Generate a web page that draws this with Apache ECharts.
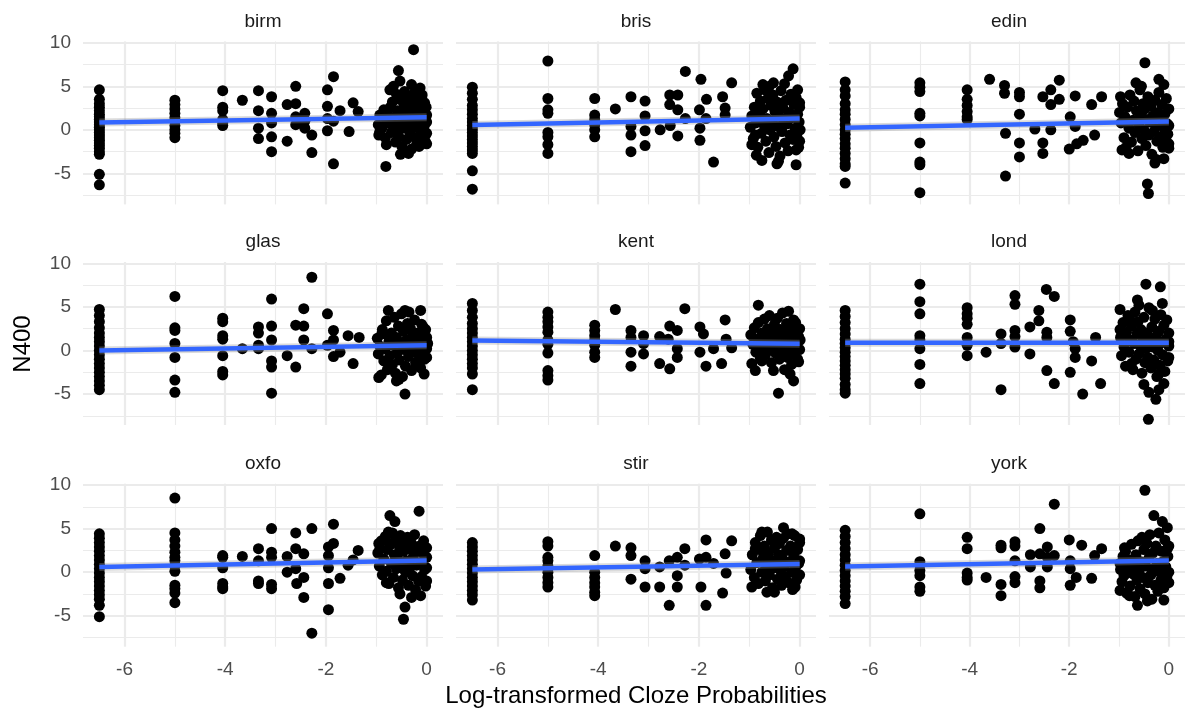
<!DOCTYPE html>
<html><head><meta charset="utf-8">
<script src="https://cdn.jsdelivr.net/npm/echarts@6/dist/echarts.min.js"></script>
<style>html,body{margin:0;padding:0;background:#fff}#c{width:1185px;height:715px}</style>
</head><body><div id="c"></div>
<script>
const panels = ['birm','bris','edin','glas','kent','lond','oxfo','stir','york'];

const birm = [
[-6.5,4.6],[-6.5,3.5],[-6.5,3.0],[-6.5,2.6],[-6.5,2.2],[-6.5,1.8],[-6.5,1.5],[-6.5,1.2],[-6.5,0.9],[-6.5,0.6],[-6.5,0.3],[-6.5,0.0],[-6.5,-0.3],[-6.5,-0.6],[-6.5,-0.9],[-6.5,-1.2],[-6.5,-1.5],[-6.5,-1.8],[-6.5,-2.1],[-6.5,-2.5],[-6.5,-2.8],[-6.5,-5.1],[-6.5,-6.3],
[-5,3.4],[-5,2.9],[-5,2.4],[-5,1.9],[-5,1.4],[-5,1.0],[-5,0.5],[-5,0.0],[-5,-0.4],[-5,-0.9],
[-4.05,4.5],[-4.05,2.6],[-4.05,2.2],[-4.05,1.2],[-4.05,0.8],[-4.05,0.5],
[-3.66,3.4],[-3.34,4.5],[-3.34,2.2],[-3.34,0.2],[-3.34,-1.0],[-3.08,3.8],[-3.08,1.9],[-3.08,0.8],[-3.08,-0.8],[-3.08,-2.5],[-2.77,-1.3],[-2.77,2.9],[-2.6,5.0],[-2.6,3.0],[-2.6,1.5],[-2.6,0.6],[-2.42,1.9],[-2.42,1.0],[-2.42,0.2],[-2.28,-0.6],[-2.28,-2.6],[-1.97,4.6],[-1.97,2.7],[-1.97,1.3],[-1.97,-0.1],[-1.85,6.1],[-1.85,-3.9],[-1.85,1.0],[-1.72,2.2],[-1.54,-0.2],[-1.46,3.1],[-1.36,2.1],
[-0.95,-0.6],[-0.93,1.7],[-0.8,-1.7],[-0.81,-4.2],[-0.73,4.6],[-0.56,6.8],[-0.26,9.2],[-0.53,5.6],[-0.46,-2.5],[-0.3,5.2],[-0.13,4.8],[-0.1,3.7],[0,1.7],[-0.03,-1.3],[-0.2,-1.7],[0,-0.4],
[-0.9,1.2],[-0.88,0.3],[-0.85,2.3],[-0.82,-0.9],[-0.78,1.9],[-0.75,0.8],[-0.72,2.6],[-0.7,-0.3],[-0.68,3.2],[-0.66,1.4],[-0.64,0.1],[-0.62,-1.4],[-0.6,4.1],[-0.58,2.2],[-0.56,0.6],[-0.55,-0.8],[-0.53,3.5],[-0.5,1.7],[-0.49,-1.9],[-0.47,0.2],[-0.45,2.9],[-0.44,4.4],[-0.42,1.0],[-0.4,-1.1],[-0.38,2.4],[-0.37,0.5],[-0.35,3.8],[-0.33,-0.4],[-0.31,1.5],[-0.3,-2.2],[-0.28,2.8],[-0.27,0.9],[-0.25,4.2],[-0.23,-0.9],[-0.22,1.9],[-0.2,0.3],[-0.18,3.2],[-0.17,-1.4],[-0.15,1.2],[-0.14,2.5],[-0.12,-0.2],[-0.1,0.8],[-0.09,4.0],[-0.08,-1.0],[-0.06,2.0],[-0.05,0.4],[-0.04,3.1],[-0.03,-0.6],[-0.02,1.4],[-0.01,2.6],[0,0.9],[0,-1.6],[-0.96,0.6],[-0.93,-0.2],[-0.66,5.0],[-0.52,-2.8],[-0.36,-2.7],[-0.15,-1.9]
];

const bris = [
[-6.5,4.9],[-6.5,4.2],[-6.5,3.5],[-6.5,2.8],[-6.5,2.3],[-6.5,1.8],[-6.5,1.3],[-6.5,0.9],[-6.5,0.5],[-6.5,0.1],[-6.5,-0.3],[-6.5,-0.7],[-6.5,-1.1],[-6.5,-1.5],[-6.5,-1.9],[-6.5,-2.3],[-6.5,-2.7],[-6.5,-4.7],[-6.5,-6.8],
[-5,7.9],[-5,3.6],[-5,2.3],[-5,1.9],[-5,-0.3],[-5,-0.8],[-5,-1.7],[-5,-2.7],
[-4.07,3.6],[-4.07,1.7],[-4.07,1.2],[-4.07,0.6],[-4.07,0.0],[-4.07,-0.8],
[-3.66,2.4],[-3.35,3.8],[-3.35,0.4],[-3.35,-0.6],[-3.35,-2.5],[-3.07,3.3],[-3.07,1.6],[-3.07,-0.1],[-3.07,-1.8],[-2.77,0.0],[-2.58,4.0],[-2.58,2.9],[-2.57,0.5],[-2.42,4.0],[-2.42,2.3],[-2.42,-0.7],[-2.27,1.3],[-2.27,6.7],[-1.96,5.8],[-1.99,2.3],[-1.98,0.2],[-1.98,-1.2],[-1.85,3.5],[-1.86,1.3],[-1.71,-3.7],[-1.53,3.8],[-1.48,2.5],[-1.48,1.7],[-1.35,5.4],
[-0.95,-1.7],[-0.88,-0.6],[-0.75,-3.5],[-0.73,5.2],[-0.52,5.4],[-0.45,-3.9],[-0.22,6.2],[-0.13,7.0],[-0.04,4.6],[-0.07,-4.0],[-0.07,-2.3],[0.01,0.0],[0,2.6],
[-0.98,0.3],[-0.95,1.6],[-0.92,-1.0],[-0.9,2.6],[-0.87,0.8],[-0.85,4.2],[-0.83,-2.0],[-0.8,1.9],[-0.78,3.3],[-0.76,-0.4],[-0.73,2.4],[-0.71,0.6],[-0.69,4.6],[-0.67,-1.3],[-0.65,1.3],[-0.63,3.6],[-0.61,-2.6],[-0.59,0.0],[-0.57,2.8],[-0.55,1.0],[-0.53,4.0],[-0.51,-0.8],[-0.49,2.1],[-0.47,-1.9],[-0.45,3.2],[-0.43,0.4],[-0.41,1.6],[-0.39,-3.0],[-0.37,4.5],[-0.35,-0.2],[-0.33,2.5],[-0.31,1.1],[-0.29,-1.5],[-0.27,3.4],[-0.25,0.7],[-0.23,-2.4],[-0.21,2.0],[-0.19,-0.6],[-0.17,4.1],[-0.15,1.4],[-0.13,-1.1],[-0.11,2.9],[-0.09,0.2],[-0.07,3.7],[-0.05,-0.9],[-0.04,1.8],[-0.02,-2.0],[-0.01,0.9],[0,3.1],[0,-1.3],[-0.6,5.0],[-0.42,-3.6],[-0.86,-2.9],[-0.3,5.3]
];

const edin = [
[-6.5,5.5],[-6.5,4.6],[-6.5,3.9],[-6.5,3.0],[-6.5,2.3],[-6.5,1.8],[-6.5,1.2],[-6.5,0.6],[-6.5,0.0],[-6.5,-0.5],[-6.5,-1.0],[-6.5,-1.6],[-6.5,-2.1],[-6.5,-2.7],[-6.5,-3.3],[-6.5,-3.9],[-6.5,-4.2],[-6.5,-6.1],
[-5,5.4],[-5,4.9],[-5,4.4],[-5,1.9],[-5,1.6],[-5,-1.5],[-5,-3.7],[-5,-4.0],[-5,-7.2],
[-4.05,4.6],[-4.05,3.5],[-4.05,2.8],[-4.05,2.1],[-4.05,1.5],[-4.05,1.2],
[-3.6,5.8],[-3.3,5.1],[-3.3,4.2],[-3.28,-0.4],[-3.28,-5.3],[-3.0,4.3],[-3.0,3.8],[-3.0,1.8],[-3.0,-1.5],[-3.0,-3.1],[-2.69,0.1],[-2.53,3.8],[-2.53,-1.5],[-2.53,-2.7],[-2.37,4.6],[-2.37,2.9],[-2.37,0.0],[-2.2,5.7],[-2.2,3.5],[-1.98,1.5],[-2.0,-2.2],[-1.88,3.9],[-1.88,0.4],[-1.85,-1.6],[-1.72,-1.2],[-1.55,2.9],[-1.49,-0.6],[-1.35,3.8],
[-0.97,3.8],[-0.94,-2.3],[-0.8,-2.7],[-0.66,5.4],[-0.48,7.7],[-0.43,-6.2],[-0.41,-7.3],[-0.28,-3.8],[-0.2,5.8],[-0.1,5.2],[-0.1,-3.3],[0,0.5],[0,-2.1],
[-0.99,2.0],[-0.96,0.8],[-0.93,3.0],[-0.9,-0.9],[-0.88,1.5],[-0.86,-2.0],[-0.83,2.6],[-0.8,0.2],[-0.78,4.0],[-0.75,-1.4],[-0.72,1.1],[-0.7,3.3],[-0.68,-0.3],[-0.65,2.2],[-0.62,-2.4],[-0.6,0.6],[-0.58,4.6],[-0.56,1.7],[-0.54,-1.0],[-0.52,3.0],[-0.5,0.0],[-0.48,2.4],[-0.46,-1.8],[-0.44,1.2],[-0.42,3.8],[-0.4,-0.6],[-0.38,0.9],[-0.36,2.7],[-0.34,-2.8],[-0.32,1.6],[-0.3,-0.2],[-0.28,3.4],[-0.26,0.4],[-0.24,-1.3],[-0.22,2.0],[-0.2,4.3],[-0.18,-0.8],[-0.16,1.0],[-0.14,2.9],[-0.12,-2.0],[-0.1,0.2],[-0.08,1.8],[-0.06,-1.1],[-0.05,3.6],[-0.03,0.7],[-0.02,-0.5],[0,2.4],[0,-1.6],[-0.55,5.0],[-0.25,-3.4]
];

const glas = [
[-6.5,4.7],[-6.5,4.0],[-6.5,3.3],[-6.5,2.6],[-6.5,2.0],[-6.5,1.5],[-6.5,1.0],[-6.5,0.5],[-6.5,0.0],[-6.5,-0.5],[-6.5,-1.0],[-6.5,-1.5],[-6.5,-2.0],[-6.5,-2.5],[-6.5,-3.0],[-6.5,-3.5],[-6.5,-4.0],[-6.5,-4.5],
[-5,6.2],[-5,2.6],[-5,2.3],[-5,0.8],[-5,-0.8],[-5,-3.4],[-5,-4.8],
[-4.05,3.7],[-4.05,3.3],[-4.05,1.7],[-4.05,1.3],[-4.05,-0.6],[-4.05,-2.4],[-4.05,-2.8],
[-3.66,0.2],[-3.34,2.7],[-3.34,2.0],[-3.34,0.6],[-3.34,0.2],[-3.08,5.9],[-3.08,2.8],[-3.08,1.2],[-3.08,-1.2],[-3.08,-1.9],[-3.08,-4.9],[-2.77,-0.6],[-2.6,-1.9],[-2.6,2.9],[-2.44,4.8],[-2.44,2.8],[-2.44,1.2],[-2.28,8.4],[-2.28,0.2],[-1.97,4.2],[-1.97,0.6],[-1.85,2.3],[-1.85,1.2],[-1.85,-0.7],[-1.72,-0.2],[-1.56,1.7],[-1.46,-1.5],[-1.34,1.5],
[-0.95,-3.1],[-0.89,1.9],[-0.76,4.6],[-0.76,1.7],[-0.6,-3.5],[-0.43,-5.0],[-0.43,4.6],[-0.12,4.6],[-0.07,2.7],[-0.05,-2.7],[0,-0.8],[0.02,0.8],
[-0.98,1.4],[-0.96,-0.4],[-0.93,0.5],[-0.9,-2.8],[-0.88,2.4],[-0.85,-1.2],[-0.83,0.2],[-0.8,3.4],[-0.78,-2.2],[-0.75,1.0],[-0.73,-0.6],[-0.7,2.0],[-0.68,-1.6],[-0.66,0.6],[-0.64,3.8],[-0.62,-2.6],[-0.6,1.5],[-0.58,-0.2],[-0.56,2.8],[-0.54,-1.1],[-0.52,0.9],[-0.5,4.2],[-0.48,-3.0],[-0.46,2.2],[-0.44,0.1],[-0.42,-1.8],[-0.4,1.2],[-0.38,3.1],[-0.36,-0.7],[-0.34,0.5],[-0.32,2.5],[-0.3,-2.3],[-0.28,1.7],[-0.26,-0.1],[-0.24,3.5],[-0.22,-1.4],[-0.2,0.8],[-0.18,2.0],[-0.16,-0.5],[-0.14,1.3],[-0.12,-2.0],[-0.1,3.0],[-0.08,0.3],[-0.06,1.9],[-0.04,-1.0],[-0.02,2.4],[0,0.2],[0,1.5],[-0.35,4.4],[-0.55,-3.3]
];

const kent = [
[-6.5,5.4],[-6.5,4.6],[-6.5,3.8],[-6.5,3.1],[-6.5,2.5],[-6.5,2.0],[-6.5,1.5],[-6.5,1.0],[-6.5,0.5],[-6.5,0.0],[-6.5,-0.5],[-6.5,-1.0],[-6.5,-1.5],[-6.5,-2.0],[-6.5,-2.7],[-6.5,-4.5],
[-5,4.4],[-5,3.8],[-5,3.3],[-5,2.7],[-5,2.1],[-5,1.2],[-5,0.7],[-5,-0.3],[-5,-2.3],[-5,-2.9],[-5,-3.4],
[-4.07,2.9],[-4.07,2.3],[-4.07,1.7],[-4.07,1.2],[-4.07,0.6],[-4.07,-0.2],[-4.07,-0.8],
[-3.66,4.7],[-3.35,2.3],[-3.35,1.5],[-3.35,-0.2],[-3.35,-1.8],[-3.1,1.7],[-3.1,0.8],[-3.1,-0.4],[-2.78,1.6],[-2.78,-1.5],[-2.61,1.3],[-2.58,2.8],[-2.58,-2.1],[-2.43,2.3],[-2.43,0.2],[-2.43,-0.8],[-2.28,4.8],[-1.98,2.7],[-1.91,1.9],[-1.98,-0.2],[-1.86,-1.8],[-1.71,0.2],[-1.55,-1.5],[-1.48,3.5],[-1.46,1.3],[-1.35,0.3],
[-0.95,-1.5],[-0.88,-2.3],[-0.82,5.2],[-0.75,-1.2],[-0.52,-2.3],[-0.42,-4.9],[-0.22,4.5],[-0.12,3.5],[-0.19,-2.7],[-0.12,-3.5],[-0.02,-1.3],[0.01,1.2],
[-0.97,1.8],[-0.93,0.7],[-0.9,2.6],[-0.87,-0.2],[-0.85,1.3],[-0.82,3.2],[-0.8,0.3],[-0.78,-0.9],[-0.75,2.0],[-0.72,0.9],[-0.7,3.6],[-0.68,-0.5],[-0.66,1.5],[-0.64,2.5],[-0.62,0.0],[-0.6,4.0],[-0.58,1.1],[-0.56,-1.4],[-0.54,2.2],[-0.52,0.5],[-0.5,3.0],[-0.48,-0.3],[-0.46,1.7],[-0.44,3.7],[-0.42,0.8],[-0.4,-1.0],[-0.38,2.4],[-0.36,1.2],[-0.34,4.3],[-0.32,-0.1],[-0.3,1.9],[-0.28,0.6],[-0.26,3.1],[-0.24,-0.8],[-0.22,1.4],[-0.2,2.6],[-0.18,0.2],[-0.16,-1.6],[-0.14,1.0],[-0.12,2.0],[-0.1,-0.4],[-0.08,3.2],[-0.06,0.7],[-0.04,-1.0],[-0.02,1.6],[0,2.5],[0,0.1],[-0.3,-2.2]
];

const lond = [
[-6.5,4.6],[-6.5,3.9],[-6.5,3.2],[-6.5,2.5],[-6.5,1.9],[-6.5,1.3],[-6.5,0.8],[-6.5,0.3],[-6.5,-0.2],[-6.5,-0.7],[-6.5,-1.2],[-6.5,-1.7],[-6.5,-2.2],[-6.5,-2.7],[-6.5,-3.2],[-6.5,-3.9],[-6.5,-4.5],[-6.5,-4.9],
[-5,7.6],[-5,5.6],[-5,4.2],[-5,1.7],[-5,1.2],[-5,0.2],[-5,-1.6],[-5,-3.8],
[-4.05,4.9],[-4.05,4.2],[-4.05,3.7],[-4.05,3.0],[-4.05,1.5],[-4.05,0.6],[-4.05,-0.6],
[-3.67,-0.2],[-3.37,1.9],[-3.37,0.8],[-3.37,-4.5],[-3.09,6.3],[-3.09,5.3],[-3.09,2.3],[-3.09,1.6],[-3.09,0.4],[-2.79,2.7],[-2.79,-0.4],[-2.61,4.6],[-2.61,3.4],[-2.46,7.0],[-2.3,6.2],[-2.45,2.1],[-2.45,1.5],[-2.45,-2.3],[-2.3,-3.8],[-1.98,3.5],[-1.98,2.2],[-1.98,-2.5],[-1.92,1.0],[-1.88,0.2],[-1.88,-0.8],[-1.73,-5.0],[-1.55,-1.2],[-1.47,1.5],[-1.37,-3.8],
[-0.98,4.7],[-0.98,2.4],[-0.79,3.7],[-0.63,5.8],[-0.46,7.6],[-0.17,7.3],[-0.13,5.4],[-0.33,4.6],[-0.5,-3.9],[-0.4,-4.8],[-0.26,-5.6],[-0.41,-7.9],[-0.1,-3.8],[-0.2,-2.7],[0,1.0],[0,-0.8],[-0.75,-1.5],
[-0.97,1.5],[-0.95,-0.6],[-0.92,3.2],[-0.9,0.4],[-0.87,-1.8],[-0.85,2.1],[-0.82,4.0],[-0.8,-0.2],[-0.78,1.2],[-0.75,2.8],[-0.72,-2.2],[-0.7,0.8],[-0.68,4.4],[-0.66,-1.0],[-0.64,1.9],[-0.62,3.3],[-0.6,-0.4],[-0.58,0.6],[-0.56,2.4],[-0.54,-2.6],[-0.52,1.4],[-0.5,3.8],[-0.48,-1.4],[-0.46,0.2],[-0.44,2.0],[-0.42,-0.8],[-0.4,4.9],[-0.38,1.0],[-0.36,-2.0],[-0.34,2.7],[-0.32,0.4],[-0.3,-1.1],[-0.28,3.6],[-0.26,1.6],[-0.24,-3.0],[-0.22,0.0],[-0.2,2.2],[-0.18,-1.7],[-0.16,4.1],[-0.14,0.9],[-0.12,-0.5],[-0.1,2.9],[-0.08,-2.4],[-0.06,1.3],[-0.04,3.5],[-0.02,-1.2],[0,0.5],[0,2.0],[-0.2,-4.5],[-0.6,5.2]
];

const oxfo = [
[-6.5,4.4],[-6.5,3.9],[-6.5,3.4],[-6.5,2.9],[-6.5,2.4],[-6.5,1.9],[-6.5,1.4],[-6.5,0.9],[-6.5,0.4],[-6.5,-0.1],[-6.5,-0.6],[-6.5,-1.1],[-6.5,-1.6],[-6.5,-2.1],[-6.5,-2.6],[-6.5,-3.1],[-6.5,-3.8],[-6.5,-5.1],
[-5,8.5],[-5,4.5],[-5,3.7],[-5,3.0],[-5,2.3],[-5,1.7],[-5,1.3],[-5,0.7],[-5,0.1],[-5,-1.5],[-5,-1.9],[-5,-2.4],[-5,-3.5],
[-4.05,1.9],[-4.05,1.7],[-4.05,0.5],[-4.05,-1.3],[-4.05,-1.7],[-4.05,-1.9],
[-3.66,1.8],[-3.34,2.7],[-3.34,1.3],[-3.34,-1.0],[-3.34,-1.3],[-3.08,5.0],[-3.08,2.3],[-3.08,1.7],[-3.08,-1.4],[-3.08,-1.9],[-2.77,1.8],[-2.77,0.0],[-2.6,4.5],[-2.6,2.7],[-2.6,0.4],[-2.58,-1.3],[-2.44,2.1],[-2.44,-0.6],[-2.44,-2.9],[-2.28,5.0],[-2.28,-7.0],[-1.95,2.9],[-1.95,1.9],[-1.95,0.5],[-1.95,-1.3],[-1.95,-4.3],[-1.85,5.5],[-1.85,3.3],[-1.72,-0.7],[-1.56,0.8],[-1.46,1.4],[-1.36,2.5],
[-0.95,3.3],[-0.93,2.7],[-0.8,-1.2],[-0.73,6.5],[-0.63,5.8],[-0.76,4.6],[-0.53,-2.5],[-0.43,-4.0],[-0.46,-5.4],[-0.15,7.0],[-0.12,-2.7],[0,1.7],[0,-1.0],
[-0.97,2.2],[-0.94,0.7],[-0.9,3.6],[-0.88,-0.3],[-0.85,1.5],[-0.82,4.1],[-0.8,0.1],[-0.78,2.6],[-0.75,-1.3],[-0.72,3.2],[-0.7,1.0],[-0.68,4.5],[-0.66,-0.6],[-0.64,2.0],[-0.62,3.8],[-0.6,0.4],[-0.58,1.6],[-0.56,-1.8],[-0.54,2.9],[-0.52,4.2],[-0.5,0.9],[-0.48,-0.9],[-0.46,2.4],[-0.44,3.5],[-0.42,0.0],[-0.4,1.3],[-0.38,4.0],[-0.36,-1.5],[-0.34,2.7],[-0.32,0.6],[-0.3,3.3],[-0.28,-0.4],[-0.26,1.9],[-0.24,4.3],[-0.22,-2.0],[-0.2,0.8],[-0.18,2.5],[-0.16,-1.0],[-0.14,3.0],[-0.12,1.1],[-0.1,-0.5],[-0.08,2.2],[-0.06,3.6],[-0.04,0.3],[-0.02,-1.6],[0,2.8],[0,0.5],[-0.3,-2.9]
];

const stir = [
[-6.5,3.4],[-6.5,2.9],[-6.5,2.4],[-6.5,1.9],[-6.5,1.4],[-6.5,0.9],[-6.5,0.4],[-6.5,-0.1],[-6.5,-0.6],[-6.5,-1.1],[-6.5,-1.6],[-6.5,-2.1],[-6.5,-2.6],[-6.5,-3.2],
[-5,3.5],[-5,3.0],[-5,1.7],[-5,1.3],[-5,0.7],[-5,0.0],[-5,-0.6],[-5,-1.2],[-5,-1.7],
[-4.07,1.9],[-4.07,0.0],[-4.07,-0.6],[-4.07,-1.2],[-4.07,-1.7],[-4.07,-2.3],[-4.07,-2.7],
[-3.66,3.0],[-3.35,2.8],[-3.35,1.9],[-3.35,-0.8],[-3.07,1.3],[-3.07,0.4],[-3.07,-1.7],[-2.78,0.6],[-2.78,-1.7],[-2.59,1.3],[-2.59,-3.8],[-2.43,1.7],[-2.43,-0.4],[-2.43,-1.7],[-2.28,2.7],[-2.28,0.8],[-1.99,1.5],[-1.96,-1.7],[-1.86,3.7],[-1.86,1.7],[-1.86,-3.8],[-1.71,1.0],[-1.53,-2.4],[-1.48,2.1],[-1.46,-0.1],[-1.35,3.6],
[-0.95,-1.7],[-0.88,2.7],[-0.75,4.6],[-0.65,-2.3],[-0.32,5.1],[-0.15,4.4],[0,3.8],[-0.09,-1.7],[0,1.3],
[-0.97,0.3],[-0.94,2.0],[-0.9,-0.6],[-0.88,3.4],[-0.85,1.1],[-0.82,-1.3],[-0.8,2.6],[-0.78,4.2],[-0.75,0.0],[-0.72,1.7],[-0.7,3.0],[-0.68,-1.0],[-0.66,0.8],[-0.64,4.6],[-0.62,2.2],[-0.6,-0.3],[-0.58,1.4],[-0.56,3.7],[-0.54,-1.8],[-0.52,0.5],[-0.5,2.8],[-0.48,1.0],[-0.46,4.0],[-0.44,-0.8],[-0.42,2.0],[-0.4,3.3],[-0.38,0.2],[-0.36,-1.5],[-0.34,1.5],[-0.32,3.9],[-0.3,0.7],[-0.28,-0.5],[-0.26,2.5],[-0.24,4.4],[-0.22,-1.2],[-0.2,1.2],[-0.18,3.0],[-0.16,0.0],[-0.14,-2.0],[-0.12,2.0],[-0.1,4.2],[-0.08,0.6],[-0.06,-0.9],[-0.04,2.6],[-0.02,1.0],[0,-0.3],[0,3.4],[-0.5,-2.3]
];

const york = [
[-6.5,4.8],[-6.5,4.1],[-6.5,3.4],[-6.5,2.7],[-6.5,2.0],[-6.5,1.4],[-6.5,0.8],[-6.5,0.2],[-6.5,-0.4],[-6.5,-1.0],[-6.5,-1.6],[-6.5,-2.2],[-6.5,-2.8],[-6.5,-3.6],
[-5,6.7],[-5,1.2],[-5,0.8],[-5,0.2],[-5,-0.4],[-5,-1.7],[-5,-2.2],
[-4.05,4.0],[-4.05,2.7],[-4.05,-0.1],[-4.05,-0.6],[-4.05,-0.9],
[-3.67,-0.6],[-3.37,3.1],[-3.37,2.8],[-3.37,-1.4],[-3.37,-2.7],[-3.09,3.5],[-3.09,3.0],[-3.09,1.3],[-3.09,-0.5],[-3.09,-1.2],[-2.78,2.0],[-2.78,0.6],[-2.59,5.0],[-2.59,2.1],[-2.59,-1.0],[-2.59,-1.8],[-2.44,2.9],[-2.44,1.7],[-2.44,0.6],[-2.3,7.8],[-2.3,1.9],[-2.0,3.7],[-1.98,1.3],[-1.98,0.4],[-1.98,-1.5],[-1.86,-0.6],[-1.75,3.1],[-1.55,-0.7],[-1.49,1.9],[-1.35,2.7],
[-0.98,-2.1],[-0.98,1.0],[-0.89,2.8],[-0.79,-2.7],[-0.63,-3.8],[-0.48,9.4],[-0.43,-3.3],[-0.3,6.5],[-0.13,5.8],[-0.03,5.1],[-0.03,2.7],[-0.1,-3.2],[0,0.0],
[-0.97,0.3],[-0.94,-1.1],[-0.92,1.8],[-0.9,-0.4],[-0.87,2.4],[-0.85,-2.4],[-0.82,0.6],[-0.8,1.4],[-0.78,-1.6],[-0.75,3.2],[-0.72,-0.2],[-0.7,0.9],[-0.68,-2.8],[-0.66,2.0],[-0.64,-0.9],[-0.62,3.6],[-0.6,0.1],[-0.58,-1.9],[-0.56,1.2],[-0.54,4.0],[-0.52,-0.6],[-0.5,2.6],[-0.48,-2.5],[-0.46,0.7],[-0.44,3.3],[-0.42,-1.2],[-0.4,1.6],[-0.38,4.3],[-0.36,-0.3],[-0.34,-3.1],[-0.32,2.2],[-0.3,0.4],[-0.28,-1.5],[-0.26,3.0],[-0.24,1.0],[-0.22,-2.2],[-0.2,4.5],[-0.18,0.0],[-0.16,-0.9],[-0.14,2.4],[-0.12,1.2],[-0.1,-1.8],[-0.08,3.7],[-0.06,0.6],[-0.04,-0.5],[-0.02,1.8],[0,-1.2],[0,3.0]
];

// fitted N400 (linear smooth) read at the ends of the data range
const fitX = [-6.5, 0];
const fitStart = [0.85, 0.55, 0.25, 0.0, 1.15, 0.9, 0.6, 0.3, 0.65];
const fitEnd   = [1.45, 1.3, 0.95, 0.6, 0.78, 0.88, 1.35, 0.95, 1.35];

const xTicks = [-6, -4, -2, 0];
const xMinor = [-5, -3, -1];
const yTicks = [-5, 0, 5, 10];
const yMinor = [-7.5, -2.5, 2.5, 7.5];

const dataByName = {birm, bris, edin, glas, kent, lond, oxfo, stir, york};
const FONT = '"Liberation Sans", Arial, Helvetica, sans-serif';
const lefts = [83, 456, 829], tops = [41.4, 262, 483.7], W = 360, H = 163;
const X_MIN = -6.825, X_MAX = 0.325, Y_MIN = -8.55, Y_MAX = 10.15;

const grids = [], xAxes = [], yAxes = [], series = [], graphics = [];
panels.forEach((name, i) => {
  const r = Math.floor(i / 3), c = i % 3;
  grids.push({left: lefts[c], top: tops[r], width: W, height: H});
  xAxes.push({
    type: 'value', gridIndex: i, min: X_MIN, max: X_MAX,
    axisLine: {show: false}, axisTick: {show: false}, splitLine: {show: false},
    axisLabel: {show: r === 2, customValues: xTicks, color: '#4d4d4d', fontSize: 19, fontFamily: FONT, margin: 14}
  });
  yAxes.push({
    type: 'value', gridIndex: i, min: Y_MIN, max: Y_MAX,
    axisLine: {show: false}, axisTick: {show: false}, splitLine: {show: false},
    axisLabel: {show: c === 0, customValues: yTicks, color: '#4d4d4d', fontSize: 19, fontFamily: FONT, margin: 12}
  });
  const gl = [];
  xTicks.forEach(v => gl.push({xAxis: v, lineStyle: {width: 2.2}}));
  xMinor.forEach(v => gl.push({xAxis: v, lineStyle: {width: 1.1}}));
  yTicks.forEach(v => gl.push({yAxis: v, lineStyle: {width: 2.2}}));
  yMinor.forEach(v => gl.push({yAxis: v, lineStyle: {width: 1.1}}));
  series.push({
    type: 'scatter', xAxisIndex: i, yAxisIndex: i, data: [], silent: true, z: 0, zlevel: 0,
    markLine: {silent: true, z: 0, symbol: ['none', 'none'], animation: false, label: {show: false},
      lineStyle: {color: '#ebebeb', type: 'solid'}, emphasis: {disabled: true}, data: gl}
  });
  series.push({
    type: 'scatter', xAxisIndex: i, yAxisIndex: i, data: dataByName[name],
    symbolSize: 11, itemStyle: {color: '#000', opacity: 1}, silent: true, z: 6
  });
  const fit = [[fitX[0], fitStart[i]], [fitX[1], fitEnd[i]]];
  series.push({
    type: 'line', xAxisIndex: i, yAxisIndex: i, data: fit, symbol: 'none', silent: true, z: 7,
    lineStyle: {width: 8, color: 'rgba(153,153,153,0.35)'}
  });
  series.push({
    type: 'line', xAxisIndex: i, yAxisIndex: i, data: fit, symbol: 'none', silent: true, z: 8,
    lineStyle: {width: 4.5, color: '#3366FF'}
  });
  graphics.push({
    type: 'text', x: lefts[c] + W / 2, y: tops[r] - 20, silent: true,
    style: {text: name, fill: '#1a1a1a', fontSize: 19, fontFamily: FONT, textAlign: 'center', textVerticalAlign: 'middle'}
  });
});
graphics.push({
  type: 'text', x: 636, y: 696, silent: true,
  style: {text: 'Log-transformed Cloze Probabilities', fill: '#000', fontSize: 24, fontFamily: FONT, textAlign: 'center', textVerticalAlign: 'middle'}
});
graphics.push({
  type: 'text', x: 23, y: 344, rotation: Math.PI / 2, silent: true,
  style: {text: 'N400', fill: '#000', fontSize: 24, fontFamily: FONT, textAlign: 'center', textVerticalAlign: 'middle'}
});

const chart = echarts.init(document.getElementById('c'), null, {renderer: 'canvas'});
chart.setOption({
  animation: false,
  backgroundColor: '#fff',
  grid: grids, xAxis: xAxes, yAxis: yAxes, series: series, graphic: graphics
});
</script>
</body></html>
